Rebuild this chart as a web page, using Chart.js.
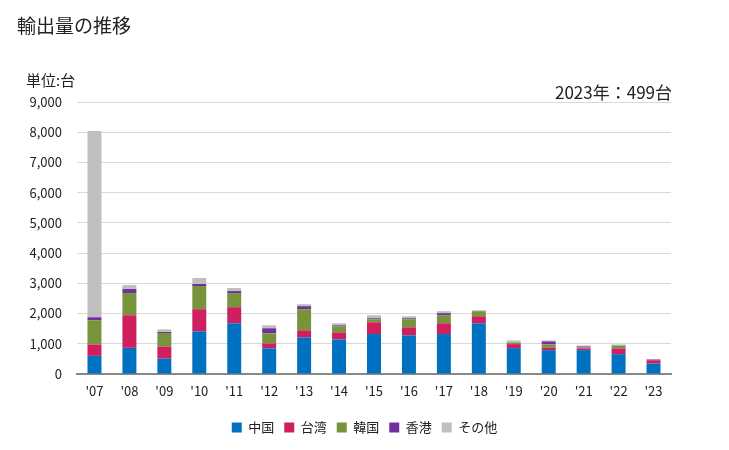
<!DOCTYPE html>
<html><head><meta charset="utf-8">
<script src="https://cdn.jsdelivr.net/npm/chart.js@4/dist/chart.umd.min.js"></script>
<style>
html,body{margin:0;padding:0;background:#fff;}
#wrap{position:relative;width:729px;height:450px;font-family:"Noto Sans CJK JP","Noto Sans",sans-serif;color:#222;}
#title{position:absolute;left:17px;top:11px;font-size:19px;line-height:28px;}
#unit{position:absolute;left:26px;top:69px;font-size:15px;line-height:22px;}
#note{position:absolute;right:57px;top:80px;font-size:17px;line-height:24px;}
canvas{position:absolute;left:0;top:0;}
</style></head>
<body><div id="wrap">
<canvas id="c" width="729" height="450"></canvas>
<div id="title">輸出量の推移</div>
<div id="unit">単位:台</div>
<div id="note">2023年：499台</div>
</div>
<script>
const categories = ["'07","'08","'09","'10","'11","'12","'13","'14","'15","'16","'17","'18","'19","'20","'21","'22","'23"];
const china   = [600, 867, 511, 1411, 1678, 850, 1211, 1144, 1322, 1278, 1322, 1678, 856, 789, 789, 656, 344];
const taiwan  = [378, 1077, 400, 733, 533, 163, 233, 234, 389, 266, 356, 233, 133, 89, 55, 188, 111];
const korea   = [800, 734, 445, 767, 467, 333, 700, 200, 100, 267, 266, 167, 55, 100, 33, 100, 0];
const hongkong= [100, 133, 33, 67, 66, 167, 100, 33, 33, 33, 67, 0, 0, 100, 33, 0, 22];
const others  = [6166, 133, 89, 200, 100, 100, 67, 67, 100, 67, 67, 33, 67, 33, 33, 34, 22];
const yTicks = [0,1000,2000,3000,4000,5000,6000,7000,8000,9000];
const seriesNames = ["中国","台湾","韓国","香港","その他"];
const seriesColors = ["#0070c0","#d01f5f","#77933c","#7030a0","#bfbfbf"];
const seriesData = [china, taiwan, korea, hongkong, others];

const font = {family:'"Noto Sans CJK JP","Noto Sans",sans-serif', size:13};
const centerLegend = {
  id:'centerLegend',
  afterLayout(chart){
    const lg = chart.legend;
    if(lg){ lg.left = 0; lg.right = chart.width; }
  }
};
new Chart(document.getElementById('c'), {
  type:'bar',
  data:{
    labels:categories,
    datasets: seriesNames.map((n,i)=>({label:n,data:seriesData[i],backgroundColor:seriesColors[i],
      categoryPercentage:0.8,barPercentage:0.5,borderWidth:0}))
  },
  plugins:[centerLegend],
  options:{
    responsive:false,animation:false,
    layout:{padding:{top:102,right:58,bottom:6,left:0}},
    plugins:{
      legend:{position:'bottom',labels:{boxWidth:10,boxHeight:10,padding:10,color:'#222',font:font}},
      tooltip:{enabled:false}
    },
    scales:{
      x:{stacked:true,
        grid:{display:false,drawTicks:false},
        border:{color:'#888',width:2},
        ticks:{color:'#222',font:font,padding:9,maxRotation:0},
        afterFit:(s)=>{s.height=37;}
      },
      y:{stacked:true,min:0,max:9000,
        afterBuildTicks:(s)=>{s.ticks=yTicks.map(v=>({value:v}));},
        grid:{color:'#d9d9d9',lineWidth:1,drawTicks:false},
        border:{display:false},
        ticks:{color:'#222',font:font,padding:15,
          callback:(v)=>v.toLocaleString('en-US')},
        afterFit:(s)=>{s.width=77;}
      }
    }
  }
});
</script>
</body></html>
